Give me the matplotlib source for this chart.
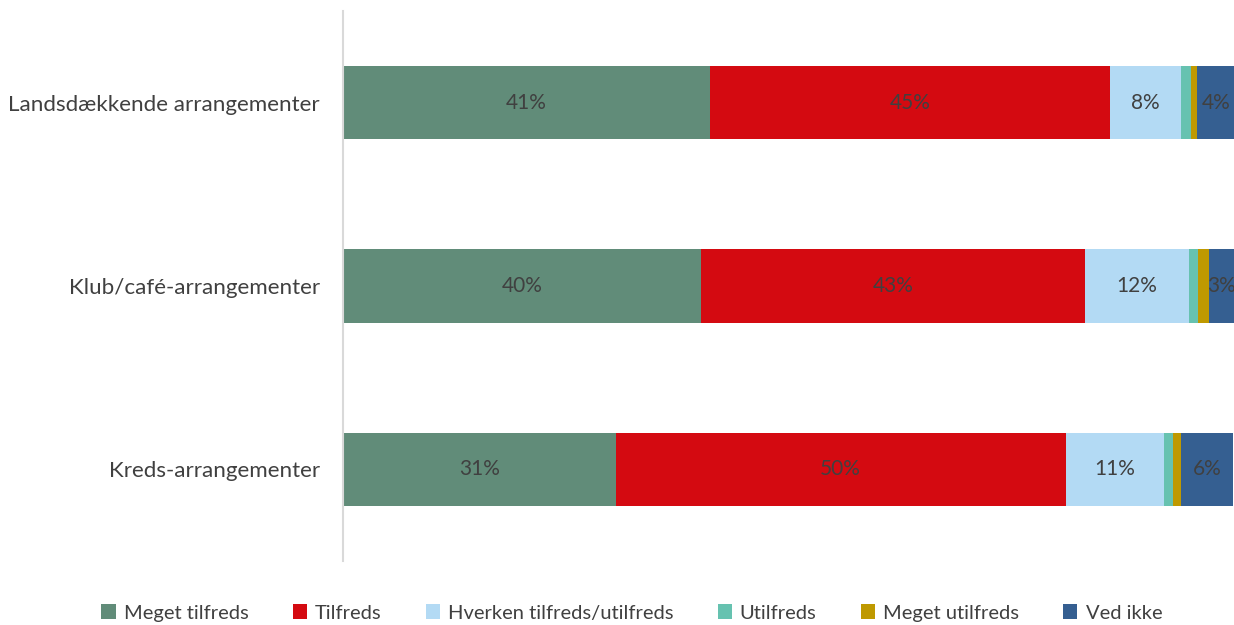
import matplotlib
matplotlib.use("Agg")
import matplotlib.pyplot as plt
import numpy as np

categories = ["Landsdækkende arrangementer", "Klub/café-arrangementer", "Kreds-arrangementer"]
series_names = ["Meget tilfreds", "Tilfreds", "Hverken tilfreds/utilfreds", "Utilfreds", "Meget utilfreds", "Ved ikke"]
meget_tilfreds = [41.2, 40.2, 30.6]
tilfreds = [44.9, 43.1, 50.5]
hverken = [8.0, 11.6, 11.0]
utilfreds = [1.1, 1.1, 1.1]
meget_utilfreds = [0.6, 1.2, 0.8]
ved_ikke = [4.3, 2.8, 5.9]
colors = ["#618C79", "#D40A11", "#B3DAF4", "#66C2B0", "#BF9900", "#355F91"]

plt.rcParams['font.family'] = ['Lato', 'DejaVu Sans']

fig = plt.figure(figsize=(12.34, 6.25), dpi=100)
ax = fig.add_axes([343/1234, 64/625, (1234-343)/1234, 550/625])

data = [meget_tilfreds, tilfreds, hverken, utilfreds, meget_utilfreds, ved_ikke]
y = np.arange(len(categories))
left = np.zeros(len(categories))
for name, vals, col in zip(series_names, data, colors):
    vals = np.array(vals)
    ax.barh(y, vals, left=left, height=0.4, color=col, label=name, edgecolor='none')
    for yi, (l, v) in enumerate(zip(left, vals)):
        if v >= 2.5:
            ax.text(l + v / 2, yi, f"{round(v):.0f}%", ha='center', va='center',
                    fontsize=15, color='#404040')
    left = left + vals

ax.set_xlim(0, 100)
ax.set_ylim(2.5, -0.5)
ax.set_yticks(y)
ax.set_yticklabels(categories, fontsize=16.1, color='#404040')
ax.tick_params(axis='y', length=0, pad=16.5)
ax.set_xticks([])
for s in ['top', 'right', 'bottom']:
    ax.spines[s].set_visible(False)
ax.spines['left'].set_color('#D9D9D9')
ax.spines['left'].set_linewidth(1.5)

fig.legend(loc='center', bbox_to_anchor=(0.512, 1 - 613/625), ncol=6, frameon=False,
           fontsize=14.5, handlelength=0.7, handleheight=0.7, handletextpad=0.4,
           columnspacing=2.2, labelcolor='#404040')

fig.savefig("out.png", dpi=100)
